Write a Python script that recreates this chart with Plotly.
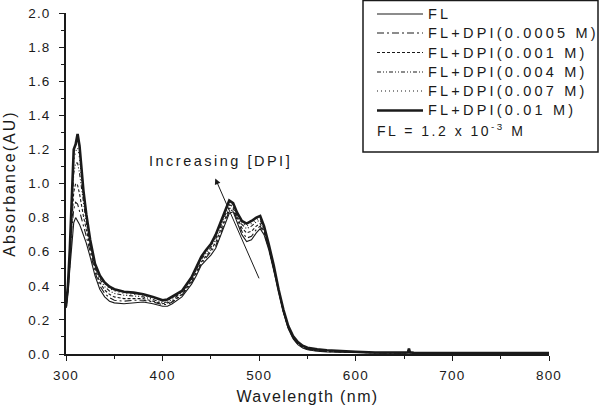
import plotly.graph_objects as go

wavelength = [300, 302, 304, 306, 308, 310, 312, 314, 316, 318,
              321, 325, 330, 335, 340, 345, 350, 360, 370, 380,
              390, 400, 405, 410, 420, 430, 435, 440, 445, 450,
              455, 460, 465, 469, 473, 477, 482, 487, 492, 497,
              501, 505, 510, 515, 520, 525, 530, 535, 540, 545,
              550, 560, 570, 580, 590, 600, 620, 650, 654, 655,
              656, 660, 700, 750, 800]

abs_fl = [0.27, 0.36, 0.50, 0.66, 0.77, 0.80, 0.78, 0.76, 0.73, 0.70,
          0.65, 0.57, 0.46, 0.38, 0.335, 0.31, 0.30, 0.295, 0.30, 0.305,
          0.295, 0.28, 0.28, 0.295, 0.335, 0.41, 0.46, 0.52, 0.55, 0.58,
          0.62, 0.69, 0.77, 0.825, 0.835, 0.78, 0.70, 0.66, 0.67, 0.71,
          0.735, 0.70, 0.61, 0.49, 0.36, 0.245, 0.15, 0.09, 0.055, 0.035,
          0.025, 0.016, 0.012, 0.010, 0.009, 0.008, 0.006, 0.005, 0.008, 0.028,
          0.008, 0.005, 0.004, 0.004, 0.004]

abs_0005 = [0.27, 0.37, 0.53, 0.73, 0.85, 0.89, 0.88, 0.84, 0.79, 0.75,
            0.69, 0.60, 0.48, 0.40, 0.355, 0.33, 0.315, 0.31, 0.315, 0.315,
            0.305, 0.29, 0.29, 0.305, 0.345, 0.42, 0.47, 0.53, 0.565, 0.595,
            0.635, 0.705, 0.785, 0.84, 0.845, 0.79, 0.72, 0.68, 0.69, 0.73,
            0.75, 0.71, 0.62, 0.50, 0.365, 0.25, 0.155, 0.093, 0.058, 0.038,
            0.028, 0.018, 0.014, 0.012, 0.011, 0.009, 0.007, 0.005, 0.008, 0.029,
            0.008, 0.005, 0.004, 0.004, 0.004]

abs_001 = [0.28, 0.38, 0.56, 0.80, 0.95, 1.00, 0.99, 0.94, 0.87, 0.81,
           0.73, 0.62, 0.50, 0.42, 0.375, 0.35, 0.335, 0.325, 0.325, 0.325,
           0.31, 0.295, 0.30, 0.31, 0.35, 0.43, 0.48, 0.54, 0.575, 0.61,
           0.655, 0.725, 0.805, 0.855, 0.855, 0.80, 0.74, 0.71, 0.72, 0.75,
           0.765, 0.72, 0.625, 0.505, 0.37, 0.252, 0.158, 0.097, 0.062, 0.040,
           0.030, 0.020, 0.016, 0.013, 0.012, 0.010, 0.007, 0.006, 0.009, 0.030,
           0.009, 0.006, 0.005, 0.005, 0.005]

abs_004 = [0.28, 0.39, 0.58, 0.87, 1.06, 1.12, 1.12, 1.06, 0.97, 0.88,
           0.77, 0.64, 0.51, 0.44, 0.395, 0.37, 0.355, 0.345, 0.34, 0.335,
           0.32, 0.30, 0.305, 0.32, 0.36, 0.44, 0.495, 0.555, 0.59, 0.625,
           0.675, 0.745, 0.825, 0.875, 0.865, 0.81, 0.76, 0.735, 0.75, 0.775,
           0.785, 0.735, 0.63, 0.51, 0.375, 0.255, 0.16, 0.10, 0.065, 0.043,
           0.033, 0.023, 0.018, 0.015, 0.014, 0.011, 0.008, 0.006, 0.009, 0.031,
           0.009, 0.006, 0.005, 0.005, 0.005]

abs_007 = [0.28, 0.40, 0.60, 0.91, 1.13, 1.19, 1.21, 1.15, 1.03, 0.92,
           0.80, 0.66, 0.52, 0.45, 0.41, 0.385, 0.37, 0.355, 0.35, 0.345,
           0.33, 0.31, 0.315, 0.33, 0.365, 0.445, 0.505, 0.565, 0.60, 0.635,
           0.69, 0.76, 0.84, 0.89, 0.875, 0.82, 0.77, 0.75, 0.765, 0.79,
           0.795, 0.745, 0.635, 0.515, 0.378, 0.258, 0.163, 0.103, 0.068, 0.046,
           0.035, 0.025, 0.020, 0.017, 0.015, 0.012, 0.008, 0.006, 0.010, 0.031,
           0.010, 0.006, 0.005, 0.005, 0.005]

abs_01 = [0.28, 0.40, 0.62, 0.95, 1.20, 1.23, 1.29, 1.22, 1.08, 0.96,
          0.82, 0.67, 0.53, 0.46, 0.42, 0.395, 0.38, 0.365, 0.36, 0.35,
          0.335, 0.315, 0.32, 0.335, 0.37, 0.45, 0.51, 0.57, 0.61, 0.645,
          0.70, 0.77, 0.85, 0.90, 0.885, 0.83, 0.78, 0.765, 0.78, 0.80,
          0.81, 0.75, 0.64, 0.52, 0.38, 0.26, 0.165, 0.105, 0.07, 0.048,
          0.037, 0.027, 0.022, 0.018, 0.016, 0.013, 0.009, 0.007, 0.010, 0.032,
          0.010, 0.007, 0.006, 0.005, 0.005]

series_names = ["FL", "FL+DPI(0.0005 M)", "FL+DPI(0.001 M)",
                "FL+DPI(0.004 M)", "FL+DPI(0.007 M)", "FL+DPI(0.01 M)"]
series_values = [abs_fl, abs_0005, abs_001, abs_004, abs_007, abs_01]
series_dash = ["solid", "7px,3px,2px,3px", "3px,2px", "4px,2px,1px,2px,1px,2px", "1px,3px", "solid"]
series_width = [1.1, 1.1, 1.1, 1.1, 1.1, 2.6]

x_ticks = [300, 400, 500, 600, 700, 800]
y_ticks = [0.0, 0.2, 0.4, 0.6, 0.8, 1.0, 1.2, 1.4, 1.6, 1.8, 2.0]

ink = "#1a1a1a"
font_family = "Liberation Sans, Arial, sans-serif"

fig = go.Figure()
for name, vals, dash, w in zip(series_names, series_values, series_dash, series_width):
    fig.add_trace(go.Scatter(x=wavelength, y=vals, mode="lines", name=name,
                             line=dict(color=ink, width=w, dash=dash),
                             showlegend=False))

# Manual legend box (paper coordinates)
def px_x(p):
    return (p - 66) / 483.0

def px_y(p):
    return (354 - p) / 341.0

fig.add_shape(type="rect", xref="paper", yref="paper",
              x0=px_x(363), x1=px_x(598), y0=px_y(152), y1=px_y(0.5),
              line=dict(color=ink, width=1.5))

row_y = [14, 33, 52.5, 72, 91, 110.5]
for name, dash, w, ry in zip(series_names, series_dash, series_width, row_y):
    fig.add_shape(type="line", xref="paper", yref="paper",
                  x0=px_x(377), x1=px_x(423), y0=px_y(ry), y1=px_y(ry),
                  line=dict(color=ink, width=w, dash=dash))
    fig.add_annotation(xref="paper", yref="paper", x=px_x(427), y=px_y(ry),
                       text=name, showarrow=False, xanchor="left", yanchor="middle",
                       align="left", borderpad=0,
                       font=dict(family=font_family, size=14.5, color=ink))

fig.add_annotation(xref="paper", yref="paper", x=px_x(376), y=px_y(130),
                   text="FL = 1.2 x 10<sup>-3</sup> M", showarrow=False,
                   xanchor="left", yanchor="middle", align="left", borderpad=0,
                   font=dict(family=font_family, size=14, color=ink))

# Arrow and label
fig.add_annotation(x=454.5, y=1.03, ax=500.5, ay=0.435, xref="x", yref="y",
                   axref="x", ayref="y", text="", showarrow=True,
                   arrowhead=2, arrowsize=1.2, arrowwidth=1, arrowcolor=ink)
fig.add_annotation(x=460, y=1.132, xref="x", yref="y", text="Increasing [DPI]",
                   showarrow=False, borderpad=0,
                   font=dict(family=font_family, size=14.5, color=ink))

fig.update_layout(
    width=600, height=407,
    margin=dict(l=66, r=51, t=13, b=53),
    plot_bgcolor="white", paper_bgcolor="white",
    font=dict(family=font_family, size=14, color=ink),
)
fig.update_xaxes(range=[300, 800], tickvals=x_ticks, ticks="outside", ticklen=5,
                 tickwidth=1, tickcolor=ink, showline=True, linecolor=ink, linewidth=1.5,
                 showgrid=False, zeroline=False, automargin=False, ticklabelstandoff=3,
                 minor=dict(dtick=50, ticks="outside", ticklen=3, tickcolor=ink, showgrid=False),
                 title=dict(text="Wavelength (nm)", font=dict(size=16), standoff=9),
                 tickfont=dict(size=13.5))
fig.update_yaxes(range=[0, 2.0], tickvals=y_ticks, tickformat=".1f", ticks="outside",
                 ticklen=5, tickwidth=1, tickcolor=ink, showline=True, linecolor=ink,
                 linewidth=1.5, showgrid=False, zeroline=False, automargin=False,
                 ticklabelstandoff=6,
                 minor=dict(dtick=0.1, ticks="outside", ticklen=3, tickcolor=ink, showgrid=False),
                 title=dict(text="Absorbance(AU)", font=dict(size=16), standoff=12),
                 tickfont=dict(size=13.5))

spacing_css = (
    "html,body{margin:0 !important;padding:0 !important;}"
    ".main-svg .annotation-text{letter-spacing:3.2px;}"
    ".main-svg .annotation[data-index=\"6\"] .annotation-text{letter-spacing:2.5px;}"
    ".main-svg .annotation[data-index=\"8\"] .annotation-text{letter-spacing:2.5px;}"
    ".main-svg .xtick text,.main-svg .ytick text{letter-spacing:1.2px;}"
    ".main-svg .xtitle{letter-spacing:1.4px;}"
    ".main-svg .ytitle{letter-spacing:2px;}"
)
post_js = ("var s=document.createElement('style');s.textContent='" + spacing_css +
           "';document.head.appendChild(s);")

fig.write_html("out.html", post_script=post_js, config={"displayModeBar": False})
